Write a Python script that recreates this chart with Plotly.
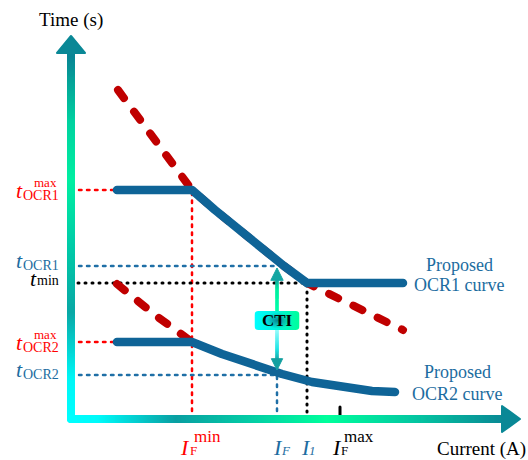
import base64
import numpy as np
import plotly.graph_objects as go

SERIF = "Times New Roman, Liberation Serif, DejaVu Serif, serif"

# Relay settings (drawing units: current along x, operating time along y)
I_F_MIN = 12.1
I_F = 20.6
I_1 = 23.6
I_F_MAX = 26.9
T_OCR1_MAX = 22.9
T_OCR1 = 15.3
T_MIN = 13.6
T_OCR2_MAX = 7.7
T_OCR2 = 4.4

# Inverse-time characteristics (red dashed)
char1_current = [4.7, 8.4, 12.1, 14.4, 16.7, 19.0, 21.3, 23.6, 28.4, 33.2]
char1_time = [32.9, 27.9, 22.9, 20.9, 19.0, 17.1, 15.3, 13.6, 11.2, 8.9]
char2_current = [4.6, 8.4, 12.1]
char2_time = [13.5, 10.4, 7.7]

# Proposed relay curves (blue)
ocr1_current = [4.6, 12.1, 14.4, 16.7, 19.0, 21.3, 23.6, 33.2]
ocr1_time = [22.9, 22.9, 20.9, 19.0, 17.1, 15.3, 13.6, 13.6]
ocr2_current = [4.6, 12.1, 15.1, 18.1, 21.1, 24.1, 27.1, 30.1, 32.4]
ocr2_time = [7.7, 7.7, 6.5, 5.4, 4.5, 3.7, 3.2, 2.8, 2.7]

# Axis extents (arrow bases) and visible window
X_END = 43.1
Y_END = 36.6
X_RANGE = [-7.1, 45.7]
Y_RANGE = [-4.1, 41.9]

RED = "#FF0000"
RED_CURVE = "#C00000"
BLUE_CURVE = "#0F6497"
BLUE_TXT = "#1C6CA0"
BLUE_DASH = "#1F6FA6"
TEAL = "#0A8896"

Y_AXIS_SCALE = [[0.0, "#00FFFF"], [0.12, "#00F6F6"], [0.3, "#0AA8A6"],
                [0.5, "#00CFA8"], [0.66, "#00EFA2"], [0.82, "#00D2A0"],
                [1.0, "#0A8595"]]
X_AXIS_SCALE = [[0.0, "#00FFFF"], [0.07, "#00FAFA"], [0.25, "#0A9FA2"],
                [0.42, "#05CCA6"], [0.6, "#00FF9C"], [0.8, "#05C8A2"],
                [1.0, "#0A8C96"]]
SHAFT_SCALE = [[0.0, "#10A0A0"], [0.15, "#20E6E6"], [0.42, "#A8FFFF"],
               [0.55, "#40FFD8"], [0.62, "#00FFAA"], [0.88, "#00EFA0"],
               [1.0, "#12A8A0"]]

fig = go.Figure()


def seg(x, y, color, width, dash="solid"):
    fig.add_trace(go.Scatter(x=x, y=y, mode="lines", hoverinfo="skip",
                             line=dict(color=color, width=width, dash=dash)))


THIN = "2.5px,5.5px"
DOT = "1px,6px"

# Guide lines to the axes
seg([0, ocr1_current[0]], [T_OCR1_MAX, T_OCR1_MAX], RED, 2.5, THIN)
seg([I_F_MIN, I_F_MIN], [0, T_OCR1_MAX], RED, 2.5, THIN)
seg([0, I_F], [T_OCR1, T_OCR1], BLUE_DASH, 2.5, THIN)
seg([0, I_1], [T_MIN, T_MIN], "#000000", 3, DOT)
seg([I_1, I_1], [0, T_MIN], "#000000", 3, DOT)
seg([0, ocr2_current[0]], [T_OCR2_MAX, T_OCR2_MAX], RED, 2.5, THIN)
seg([0, I_F], [T_OCR2, T_OCR2], BLUE_DASH, 2.5, THIN)
seg([I_F, I_F], [0, T_OCR2], BLUE_DASH, 2.5, THIN)
seg([I_F_MAX, I_F_MAX], [0, 1.2], "#000000", 3)

# Relay characteristics
seg(char1_current, char1_time, RED_CURVE, 8, "10px,17px")
seg(char2_current, char2_time, RED_CURVE, 8, "10px,17px")
seg(ocr1_current, ocr1_time, BLUE_CURVE, 8.5)
seg(ocr2_current, ocr2_time, BLUE_CURVE, 8.5)

# CTI double arrow
tip_top = T_OCR1 - 0.2
tip_bot = T_OCR2 + 0.5
shaft = np.linspace(tip_bot + 1.0, tip_top - 1.1, 160)
fig.add_trace(go.Scatter(
    x=np.full_like(shaft, I_F), y=shaft, mode="markers", hoverinfo="skip",
    marker=dict(size=3, color=(shaft - shaft[0]) / (shaft[-1] - shaft[0]),
                colorscale=SHAFT_SCALE, cmin=0, cmax=1, line=dict(width=0))))

# Gradient axes drawn as a dense row of round dots
ys = np.linspace(0, Y_END, 420)
fig.add_trace(go.Scatter(
    x=np.zeros_like(ys), y=ys, mode="markers", hoverinfo="skip",
    marker=dict(size=8, color=ys / Y_END, colorscale=Y_AXIS_SCALE,
                cmin=0, cmax=1, line=dict(width=0))))
xs = np.linspace(0, X_END, 480)
fig.add_trace(go.Scatter(
    x=xs, y=np.zeros_like(xs), mode="markers", hoverinfo="skip",
    marker=dict(size=8, color=xs / X_END, colorscale=X_AXIS_SCALE,
                cmin=0, cmax=1, line=dict(width=0))))

shapes = [
    # axis arrow heads
    dict(type="path", path=f"M -1.4,{Y_END} L 0,{Y_END + 1.7} L 1.4,{Y_END} Z",
         fillcolor=TEAL, line=dict(color=TEAL, width=2)),
    dict(type="path", path=f"M {X_END},-1.3 L {X_END + 1.8},0 L {X_END},1.3 Z",
         fillcolor=TEAL, line=dict(color=TEAL, width=2)),
    # CTI arrow heads
    dict(type="path",
         path=f"M {I_F - 0.6},{tip_top - 1.2} L {I_F},{tip_top} L {I_F + 0.6},{tip_top - 1.2} Z",
         fillcolor="#13A6A2", line=dict(color="#13A6A2", width=1)),
    dict(type="path",
         path=f"M {I_F - 0.55},{tip_bot + 1.1} L {I_F},{tip_bot} L {I_F + 0.55},{tip_bot + 1.1} Z",
         fillcolor="#13A0A0", line=dict(color="#13A0A0", width=1)),
]

# CTI badge background (rounded, with glow behind the text)
badge_svg = (
    "<svg xmlns='http://www.w3.org/2000/svg' width='90' height='38' viewBox='0 0 90 38' "
    "preserveAspectRatio='none'><defs>"
    "<linearGradient id='g' x1='0' x2='1' y1='0' y2='0'>"
    "<stop offset='0' stop-color='#00FFFF'/><stop offset='0.45' stop-color='#00F2E0'/>"
    "<stop offset='1' stop-color='#00FF99'/></linearGradient>"
    "<radialGradient id='r' cx='0.5' cy='0.5' r='0.5'>"
    "<stop offset='0' stop-color='#0A6E80' stop-opacity='0.85'/>"
    "<stop offset='0.55' stop-color='#0B8490' stop-opacity='0.45'/>"
    "<stop offset='1' stop-color='#0B9090' stop-opacity='0'/></radialGradient></defs>"
    "<rect width='90' height='38' rx='8' fill='url(#g)'/>"
    "<ellipse cx='46' cy='19' rx='28' ry='16' fill='url(#r)'/></svg>"
)
badge_uri = "data:image/svg+xml;base64," + base64.b64encode(badge_svg.encode()).decode()
cti_mid = (T_OCR1 + T_OCR2) / 2
images = [dict(source=badge_uri, xref="x", yref="y", x=I_F - 2.25, y=cti_mid + 0.95,
               sizex=4.5, sizey=1.9, xanchor="left", yanchor="top",
               sizing="stretch", layer="above")]

ann = []


def text(s, x, y, size, color, dx=0, dy=0, xanchor="left"):
    ann.append(dict(text=s, x=x, y=y, xref="x", yref="y", xshift=dx, yshift=-dy,
                    xanchor=xanchor, yanchor="middle", showarrow=False,
                    font=dict(family=SERIF, size=size, color=color)))


# Time labels on the left
for level, sub, sup, color in [(T_OCR1_MAX, "OCR1", "max", RED),
                               (T_OCR1, "OCR1", None, BLUE_TXT),
                               (T_OCR2_MAX, "OCR2", "max", RED),
                               (T_OCR2, "OCR2", None, BLUE_TXT)]:
    if sup:
        text("<i>t</i>", 0, level, 22, color, dx=-57, dy=0)
        text(sub, 0, level, 14, color, dx=-50, dy=5)
        text(sup, 0, level, 13, color, dx=-39, dy=-8)
    else:
        text("<i>t</i>", 0, level, 22, color, dx=-57, dy=-6)
        text(sub, 0, level, 14, color, dx=-50, dy=-1)
text("<i>t</i>", 0, T_MIN, 22, "#000000", dx=-43, dy=-4.5)
text("min", 0, T_MIN, 14, "#000000", dx=-36, dy=-2.7)

# Current labels below the axis
for level, sub, sup, color, dI, dsub, dsup in [
        (I_F_MIN, "F", "min", RED, -14, -4, 0),
        (I_F, "<i>F</i>", None, BLUE_TXT, -6, 2, 0),
        (I_1, "<i>1</i>", None, BLUE_TXT, -8, 0, 0),
        (I_F_MAX, "F", "max", "#000000", -10, -1, 2)]:
    text("<i>I</i>", level, 0, 22, color, dx=dI, dy=28.5)
    text(sub, level, 0, 13, color, dx=dsub, dy=31.6)
    if sup:
        text(sup, level, 0, 17, color, dx=dsup, dy=17.3)

# Curve captions
text("Proposed", ocr1_current[-1], ocr1_time[-1], 18, BLUE_TXT, dx=56, dy=-18, xanchor="center")
text("OCR1 curve", ocr1_current[-1], ocr1_time[-1], 18, BLUE_TXT, dx=56, dy=2, xanchor="center")
text("Proposed", ocr2_current[-1], ocr2_time[-1], 18, BLUE_TXT, dx=62, dy=-20, xanchor="center")
text("OCR2 curve", ocr2_current[-1], ocr2_time[-1], 18, BLUE_TXT, dx=62, dy=2, xanchor="center")

# CTI text and axis titles
text("<b>CTI</b>", I_F, cti_mid, 17, "#000000", xanchor="center")
text("Time (s)", 0, Y_RANGE[1], 19, "#000000", dy=20, xanchor="center")
text("Current (A)", X_RANGE[1], 0, 19, "#000000", dx=0, dy=30, xanchor="right")

fig.update_layout(
    width=528, height=460, margin=dict(l=0, r=0, t=0, b=0),
    paper_bgcolor="white", plot_bgcolor="white", showlegend=False,
    xaxis=dict(range=X_RANGE, visible=False, fixedrange=True),
    yaxis=dict(range=Y_RANGE, visible=False, fixedrange=True),
    shapes=shapes, images=images, annotations=ann,
)

ROUND_CAPS = (
    "var gd=document.getElementById('{plot_id}');"
    "gd.querySelectorAll('.scatterlayer path.js-line, .shapelayer path').forEach(function(p){"
    "p.style.strokeLinecap='round';p.style.strokeLinejoin='round';});"
)
fig.write_html("out.html", config={"displayModeBar": False}, post_script=ROUND_CAPS)
